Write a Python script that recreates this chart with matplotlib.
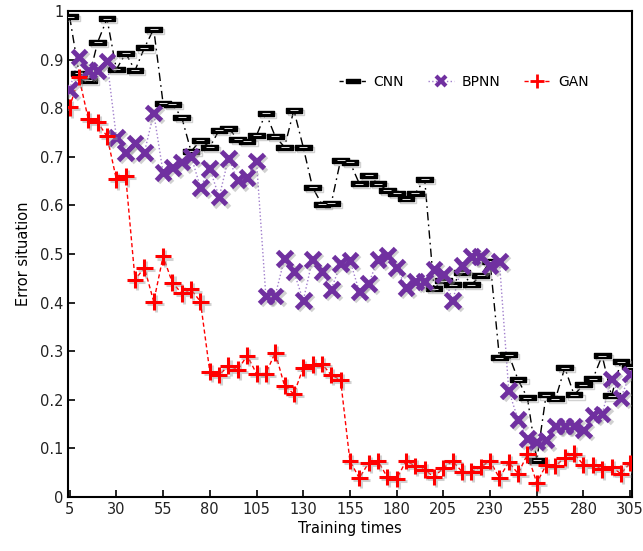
import matplotlib
matplotlib.use("Agg")

import matplotlib.pyplot as plt
import matplotlib.patheffects as pe
import numpy as np

# ─── Data ─────────────────────────────────────────────────────────────────────
steps = np.arange(5, 306, 5)

cnn = [0.988, 0.872, 0.858, 0.936, 0.984, 0.880, 0.913, 0.878, 0.924, 0.963,
       0.810, 0.808, 0.781, 0.711, 0.734, 0.720, 0.755, 0.759, 0.736, 0.732,
       0.744, 0.790, 0.742, 0.720, 0.796, 0.720, 0.637, 0.602, 0.604, 0.693,
       0.689, 0.645, 0.662, 0.645, 0.631, 0.625, 0.614, 0.625, 0.654, 0.429,
       0.445, 0.437, 0.462, 0.437, 0.456, 0.485, 0.287, 0.293, 0.241, 0.204,
       0.076, 0.210, 0.202, 0.266, 0.210, 0.231, 0.243, 0.291, 0.208, 0.278,
       0.268]

bpnn = [0.839, 0.905, 0.878, 0.878, 0.897, 0.740, 0.709, 0.728, 0.709, 0.790,
        0.668, 0.678, 0.689, 0.701, 0.637, 0.676, 0.617, 0.697, 0.652, 0.658,
        0.691, 0.414, 0.414, 0.491, 0.464, 0.404, 0.489, 0.464, 0.427, 0.480,
        0.487, 0.423, 0.439, 0.489, 0.497, 0.472, 0.431, 0.443, 0.443, 0.468,
        0.458, 0.404, 0.476, 0.495, 0.495, 0.476, 0.485, 0.219, 0.159, 0.120,
        0.113, 0.117, 0.146, 0.146, 0.146, 0.138, 0.169, 0.171, 0.243, 0.204,
        0.253]

gan = [0.802, 0.864, 0.777, 0.771, 0.742, 0.654, 0.660, 0.447, 0.472, 0.402,
       0.495, 0.441, 0.419, 0.427, 0.402, 0.258, 0.251, 0.270, 0.262, 0.291,
       0.254, 0.254, 0.297, 0.229, 0.212, 0.266, 0.272, 0.274, 0.251, 0.241,
       0.074, 0.039, 0.070, 0.074, 0.041, 0.037, 0.074, 0.064, 0.056, 0.041,
       0.060, 0.074, 0.052, 0.052, 0.062, 0.074, 0.039, 0.072, 0.048, 0.088,
       0.029, 0.066, 0.064, 0.081, 0.089, 0.066, 0.066, 0.057, 0.062, 0.048,
       0.070]

xticks = np.arange(5, 306, 25)
yticks = [0, 0.1, 0.2, 0.3, 0.4, 0.5, 0.6, 0.7, 0.8, 0.9, 1]
ytick_labels = ["0", "0.1", "0.2", "0.3", "0.4", "0.5", "0.6", "0.7", "0.8", "0.9", "1"]

# ─── Figure ──────────────────────────────────────────────────────────────────
plt.rcParams["font.family"] = ["DejaVu Sans"]

fig = plt.figure(figsize=(6.43, 5.51), dpi=100)
ax = fig.add_axes([0.106, 0.098, 0.877, 0.882])

# soft drop shadow on the markers only
shadow = [pe.SimpleLineShadow(offset=(1.5, -1.5), shadow_color="0.6", alpha=0.45),
          pe.Normal()]

bar = [(-1, -0.3), (1, -0.3), (1, 0.3), (-1, 0.3), (-1, -0.3)]

# connecting lines
ax.plot(steps, cnn, color="black", linewidth=1.0, dashes=(6, 3, 1.2, 3), zorder=2)
ax.plot(steps, bpnn, color="#a17fcc", linestyle=":", linewidth=1.0, zorder=2)
ax.plot(steps, gan, color="red", linewidth=1.0, dashes=(3, 2), zorder=2)

# markers
ax.plot(steps, cnn, linestyle="none", marker=bar, markersize=12,
        markerfacecolor="black", markeredgecolor="black",
        path_effects=shadow, zorder=3)
ax.plot(steps, cnn, linestyle="none", marker="_", markersize=6,
        markeredgecolor="white", markeredgewidth=0.6, zorder=3.1)
ax.plot(steps, bpnn, linestyle="none", marker="x", markersize=10.5,
        markeredgewidth=3.5, markeredgecolor="#7030a0",
        path_effects=shadow, zorder=4)
ax.plot(steps, gan, linestyle="none", marker="+", markersize=12,
        markeredgewidth=2.2, markeredgecolor="red",
        path_effects=shadow, zorder=5)

# legend proxies
h1, = ax.plot([], [], color="black", dashes=(3, 2, 1, 2), linewidth=1.0,
              marker=bar, markersize=10, markerfacecolor="black")
h2, = ax.plot([], [], color="#a17fcc", linestyle=":", linewidth=1.0,
              marker="x", markersize=7, markeredgewidth=3, markeredgecolor="#7030a0")
h3, = ax.plot([], [], color="red", dashes=(3, 2), linewidth=1.0,
              marker="+", markersize=10, markeredgewidth=2)
ax.legend([h1, h2, h3], ["CNN", "BPNN", "GAN"], ncol=3, frameon=False,
          loc="upper right", bbox_to_anchor=(0.945, 0.895), fontsize=10,
          handlelength=1.9, columnspacing=1.7, handletextpad=0.55)

ax.set_xlim(4.2, 306)
ax.set_ylim(0, 1)
ax.set_xticks(xticks)
ax.set_yticks(yticks)
ax.set_yticklabels(ytick_labels)
ax.tick_params(direction="in", length=5, width=1.2, labelsize=10.5,
               labelcolor="#222222", top=False, right=False)
for s in ax.spines.values():
    s.set_linewidth(1.5)

ax.set_xlabel("Training times", fontsize=10.5, labelpad=3)
ax.set_ylabel("Error situation", fontsize=10.5, labelpad=6)

fig.savefig("out.png", dpi=100)
